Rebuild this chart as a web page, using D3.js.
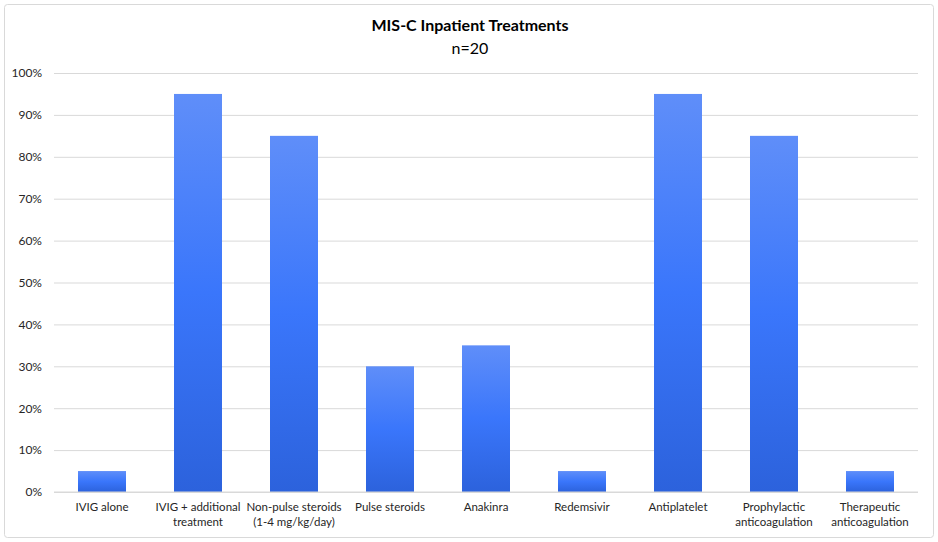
<!DOCTYPE html>
<html>
<head>
<meta charset="utf-8">
<script src="https://cdn.jsdelivr.net/npm/d3@7"></script>
<style>
  body { margin: 0; background: #fff; }
  text { font-family: Lato, "Open Sans", sans-serif; fill: #262626; }
</style>
</head>
<body>
<div id="chart-container"></div>
<script>
const categories = [
  ['IVIG alone'],
  ['IVIG + additional', 'treatment'],
  ['Non-pulse steroids', '(1-4 mg/kg/day)'],
  ['Pulse steroids'],
  ['Anakinra'],
  ['Redemsivir'],
  ['Antiplatelet'],
  ['Prophylactic', 'anticoagulation'],
  ['Therapeutic', 'anticoagulation']
]
const values = [5, 95, 85, 30, 35, 5, 95, 85, 5]
const yTicks = [0, 10, 20, 30, 40, 50, 60, 70, 80, 90, 100]

function draw () {
  const width = 938
  const height = 542
  const marginTop = 73
  const marginRight = 20
  const marginBottom = 50
  const marginLeft = 54

  const svg = d3.select('#chart-container')
    .append('svg')
    .attr('width', width)
    .attr('height', height)

  const defs = svg.append('defs')
  const grad = defs.append('linearGradient')
    .attr('id', 'barGrad')
    .attr('x1', 0).attr('y1', 0).attr('x2', 0).attr('y2', 1)
  grad.append('stop').attr('offset', '0%').attr('stop-color', '#5f8ef9')
  grad.append('stop').attr('offset', '50%').attr('stop-color', '#3a76fb')
  grad.append('stop').attr('offset', '100%').attr('stop-color', '#2c62dc')

  svg.append('rect')
    .attr('x', 4.5).attr('y', 4.5)
    .attr('width', width - 9).attr('height', height - 9)
    .attr('rx', 3)
    .attr('fill', '#fff')
    .attr('stroke', '#d9d9d9')

  svg.append('text')
    .attr('x', width / 2 + 1)
    .attr('y', 31)
    .attr('text-anchor', 'middle')
    .style('font-size', '16px')
    .style('font-weight', 'bold')
    .style('fill', '#000')
    .text('MIS-C Inpatient Treatments')

  svg.append('text')
    .attr('x', width / 2 + 1)
    .attr('y', 54)
    .attr('text-anchor', 'middle')
    .style('font-size', '16px')
    .style('fill', '#000')
    .text('n=20')

  const xScale = d3.scaleBand()
    .domain(d3.range(categories.length))
    .range([marginLeft, width - marginRight])
    .paddingInner(0.5)
    .paddingOuter(0.25)

  const yScale = d3.scaleLinear()
    .domain([0, 100])
    .range([height - marginBottom, marginTop])

  const yAxis = d3.axisLeft(yScale)
    .tickValues(yTicks)
    .tickFormat(d => d + '%')
    .tickSize(-(width - marginRight - marginLeft))
    .tickPadding(12)

  const gy = svg.append('g')
    .attr('transform', 'translate(' + marginLeft + ',0)')
    .call(yAxis)
  gy.select('.domain').remove()
  gy.selectAll('line').attr('stroke', '#d9d9d9')
  gy.selectAll('text')
    .style('font-size', '12px')
    .style('fill', '#262626')

  svg.selectAll('rect.bar')
    .data(values)
    .enter()
    .append('rect')
    .attr('class', 'bar')
    .attr('x', (d, i) => xScale(i))
    .attr('y', d => yScale(d))
    .attr('width', xScale.bandwidth())
    .attr('height', d => yScale(0) - yScale(d))
    .attr('fill', 'url(#barGrad)')

  svg.append('line')
    .attr('x1', marginLeft).attr('x2', width - marginRight)
    .attr('y1', yScale(0)).attr('y2', yScale(0))
    .attr('stroke', '#d9d9d9')

  const labels = svg.append('g')
    .selectAll('text')
    .data(categories)
    .enter()
    .append('text')
    .attr('x', (d, i) => xScale(i) + xScale.bandwidth() / 2)
    .attr('y', height - marginBottom + 19)
    .attr('text-anchor', 'middle')
    .style('font-size', '11.5px')
  labels.selectAll('tspan')
    .data(d => d)
    .enter()
    .append('tspan')
    .attr('x', function () { return d3.select(this.parentNode).attr('x') })
    .attr('dy', (d, i) => i === 0 ? 0 : 15)
    .text(d => d)
}
draw()
</script>
</body>
</html>
